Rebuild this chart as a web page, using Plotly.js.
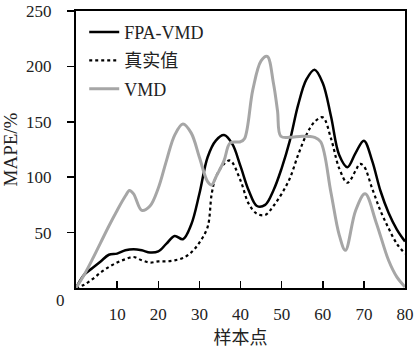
<!DOCTYPE html>
<html>
<head>
<meta charset="utf-8">
<script src="https://cdn.plot.ly/plotly-3.0.1.min.js"></script>
<style>html,body{margin:0;padding:0;background:#fff}#chart{width:420px;height:349px}</style>
</head>
<body>
<div id="chart"></div>
<script>
// FPA-VMD
const fpaX = [0,2,4,6,8,10,12,14,16,18,20,22,24,26,28,30,32,34,36,38,40,42,44,46,48,50,52,54,56,58,60,62,64,66,68,70,72,74,76,78,80];
const fpaY = [0,12,18,24,30,31,34,35,34,32,33,40,47,44,57,85,118,133,138,130,110,88,74,75,88,108,133,165,188,197,185,155,120,109,122,133,115,88,68,53,42];
// 真实值
const trueX = [0,2,4,6,8,10,12,14,16,18,20,22,24,26,28,30,32,33,34,36,37.5,40,42,44,46,48,50,52,54,56,58,60,62,64,66,68,69,70,72,74,76,78,80];
const trueY = [0,3,8,14,19,23,26,28,25,23,24,24,25,27,32,41,55,85,100,112,115,97,76,67,66,74,85,99,120,138,150,154,135,108,95,106,112,110,90,70,54,40,31];
// VMD
const vmdX = [0,2,4,6,8,10,12,13,14,16,18,20,22,24,26,28,30,32,33,34,36,37.5,40,41,43,45,46.5,48,49,49.8,52,55,58,59.5,62,64,65.5,68,70.3,73,76,78,80];
const vmdY = [0,12,26,41,56,70,83,88,85,70,74,90,115,138,148,140,118,96,93,100,115,131,132,135,179,205,209,185,160,137,136,137,136,132,86,48,34,70,85,59,25,10,1];

const names = ['FPA-VMD', '真实值', 'VMD'];
const serif = 'Liberation Serif, Noto Sans CJK SC';

const traces = [
  {x: fpaX, y: fpaY, name: names[0], legendgroup: 'a', mode: 'lines', line: {color: '#000', width: 2.5, shape: 'spline', smoothing: 1}},
  {x: trueX, y: trueY, name: names[1], legendgroup: 'b', mode: 'lines', line: {color: '#000', width: 2.2, dash: 'dot', shape: 'spline', smoothing: 1}},
  {x: vmdX, y: vmdY, name: names[2], legendgroup: 'c', mode: 'lines', line: {color: '#a6a6a6', width: 3, shape: 'spline', smoothing: 1}}
];

const layout = {
  width: 420, height: 349,
  margin: {l: 76, r: 15, t: 11, b: 61},
  paper_bgcolor: '#fff', plot_bgcolor: '#fff',
  font: {family: serif, size: 17, color: '#222'},
  showlegend: true,
  legend: {x: 0.025, y: 0.99, xanchor: 'left', yanchor: 'top', bgcolor: 'rgba(0,0,0,0)', font: {size: 18, family: serif}, tracegroupgap: 2},
  xaxis: {
    range: [0, 80], tickvals: [10,20,30,40,50,60,70,80], ticktext: ['10','20','30','40','50','60','70','80'],
    ticks: 'inside', ticklen: 7, tickwidth: 1.5, tickcolor: '#000',
    tickfont: {family: 'Liberation Serif', size: 17},
    showline: true, linecolor: '#000', linewidth: 2, mirror: true,
    showgrid: false, zeroline: false, ticklabelstandoff: 10,
    title: {text: '样本点', font: {size: 18, family: 'Noto Sans CJK SC'}, standoff: 11}
  },
  yaxis: {
    range: [0, 250], tickvals: [50,100,150,200,250],
    ticks: 'outside', ticklen: 7, tickwidth: 1.5, tickcolor: '#000',
    tickfont: {family: 'Liberation Serif', size: 17},
    showline: true, linecolor: '#000', linewidth: 2, mirror: true,
    showgrid: false, zeroline: false, ticklabelstandoff: 12,
    title: {text: 'MAPE/%', font: {size: 19, family: 'Liberation Serif'}, standoff: 8}
  },
  annotations: [
    {text: '0', xref: 'paper', yref: 'y', x: 0, y: 0, xanchor: 'right', yanchor: 'middle', xshift: -9, yshift: -12, showarrow: false, font: {size: 17, family: 'Liberation Serif'}}
  ]
};

Plotly.newPlot('chart', traces, layout, {displayModeBar: false, staticPlot: true});
</script>
</body>
</html>
